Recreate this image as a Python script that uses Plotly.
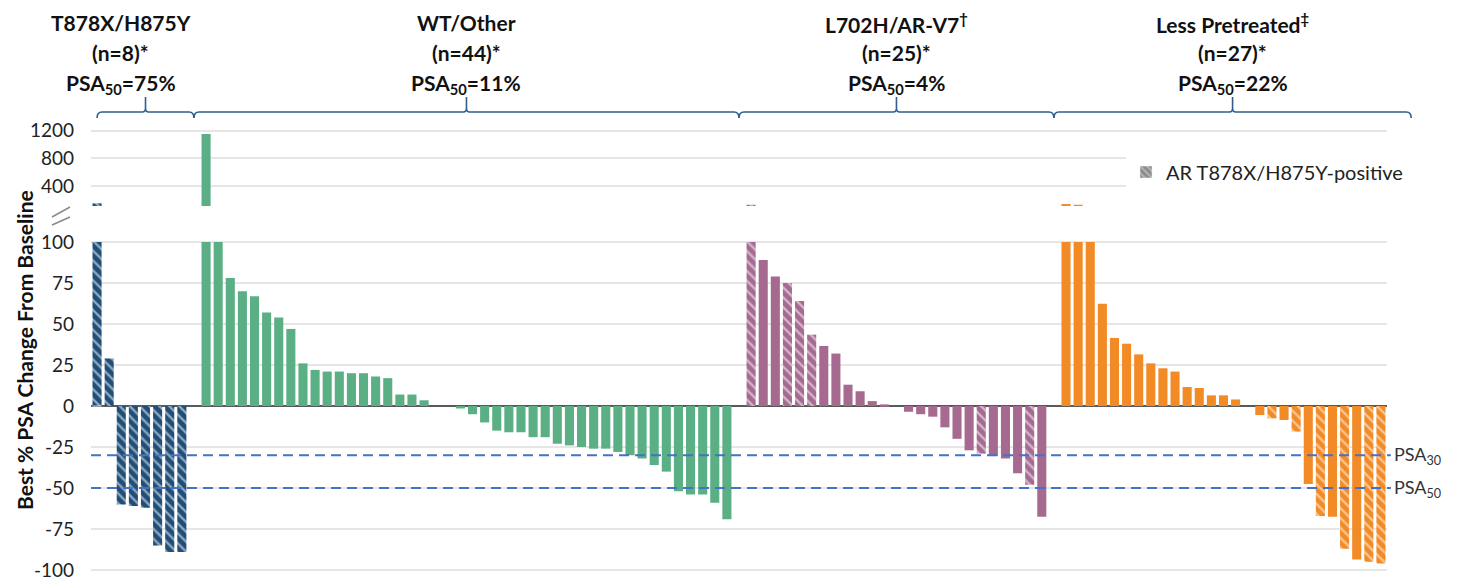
import plotly.graph_objects as go

# ---------------- data ----------------
group_names = ["T878X/H875Y", "WT/Other", "L702H/AR-V7<sup>†</sup>", "Less Pretreated<sup>‡</sup>"]
group_n = ["(n=8)*", "(n=44)*", "(n=25)*", "(n=27)*"]
group_psa50 = ["75%", "11%", "4%", "22%"]
group_colors = ["#1F4E79", "#5BAF84", "#A66A91", "#F28A26"]

t878_values = [150, 29, -60, -61, -62, -85, -89, -89]
t878_hatched = [1, 1, 1, 1, 1, 1, 1, 1]

wt_values = [1150, 100, 78, 70, 67, 57, 54, 47, 26, 22, 21, 21, 20, 20, 18, 17, 7, 7, 3.5,
             0, 0, -1.5, -5, -10, -15, -16, -16, -19, -19, -23, -24, -25, -26, -26, -28,
             -30, -32, -36, -40, -52, -54, -54, -59, -69]
wt_hatched = [0] * 44

l702h_values = [130, 89, 79, 75, 64, 43.5, 36.6, 32, 13, 9, 3, 1, 0,
                -3.5, -5, -6.5, -13, -20, -27, -29, -30.5, -32, -41, -48, -67.5]
l702h_hatched = [1, 0, 0, 1, 1, 1, 0, 0, 0, 0, 0, 0, 0,
                 0, 0, 0, 0, 0, 0, 1, 0, 0, 0, 1, 0]

lp_values = [140, 130, 100, 62.4, 41.5, 38, 31.5, 26, 23, 21, 11.6, 11, 6.5, 6.5, 4, 0,
             -5.5, -7.5, -8.5, -15.6, -47.5, -67, -67.5, -87, -93.5, -95, -96]
lp_hatched = [0] * 16 + [0, 1, 0, 1, 0, 1, 0, 1, 0, 1, 1]

group_values = [t878_values, wt_values, l702h_values, lp_values]
group_hatched = [t878_hatched, wt_hatched, l702h_hatched, lp_hatched]

lower_ticks = [-100, -75, -50, -25, 0, 25, 50, 75, 100]
upper_ticks = [400, 800, 1200]
psa_thresholds = [-30, -50]
psa_labels = ["PSA<sub>30</sub>", "PSA<sub>50</sub>"]
legend_label = "AR T878X/H875Y-positive"

# ---------------- layout geometry ----------------
W, H = 1457, 586
ML, MR, MT, MB = 91, 70, 119, 13
PW = W - ML - MR
PH = H - MT - MB
LOW_RANGE = [-101.8, 102]
UP_RANGE = [112, 1366]
LOW_DOMAIN = [0, 0.7363]
UP_DOMAIN = [0.8084, 1]
FONT = "Lato"

# slot positions: one empty slot between groups
slots = []
pos = 0
for vals in group_values:
    slots.append(list(range(pos, pos + len(vals))))
    pos += len(vals) + 1
n_slots = pos - 1
XR = [-0.5, n_slots - 0.5]


def px_x(slot):
    return ML + (slot - XR[0]) / (XR[1] - XR[0]) * PW


def paper_x(px):
    return (px - ML) / PW


def paper_y(py):
    return (H - MB - py) / PH


fig = go.Figure()

for gi, vals in enumerate(group_values):
    color = group_colors[gi]
    shapes = ["\\" if h else "" for h in group_hatched[gi]]
    pattern = dict(shape=shapes, fgcolor="white", bgcolor=color, size=7, solidity=0.33)
    lower = [min(v, 100) for v in vals]
    fig.add_trace(go.Bar(x=slots[gi], y=lower, marker=dict(color=color, pattern=pattern, line=dict(width=0)),
                         yaxis="y", showlegend=False, hoverinfo="y"))
    fig.add_trace(go.Bar(x=slots[gi], y=vals, marker=dict(color=color, pattern=pattern, line=dict(width=0)),
                         yaxis="y2", showlegend=False, hoverinfo="y"))

# legend-only trace
fig.add_trace(go.Bar(x=[0], y=[0], yaxis="y", name=legend_label,
                     marker=dict(color="#8c8c8c",
                                 pattern=dict(shape="\\", fgcolor="#d9d9d9", bgcolor="#8c8c8c", size=6, solidity=0.4)),
                     showlegend=True, hoverinfo="skip"))

shapes = []
annotations = []

# PSA threshold lines
for thr, lab in zip(psa_thresholds, psa_labels):
    shapes.append(dict(type="line", xref="paper", yref="y", x0=0, x1=1.003, y0=thr, y1=thr,
                       line=dict(color="#4472C4", width=2, dash="10px,6px"), layer="above"))
    annotations.append(dict(xref="paper", yref="y", x=1.004, y=thr, text=lab, showarrow=False,
                            xanchor="left", yanchor="middle",
                            font=dict(family=FONT, size=18, color="#333333")))

# braces and group headers
brace_color = "#2F5F8F"
y_line = 112
y_end = 118
y_tip = 97
bounds = []
for gi in range(len(group_values)):
    start = slots[gi][0] if gi == 0 else slots[gi][0] - 1
    end = slots[gi][-1] + 1 if gi < len(group_values) - 1 else slots[gi][-1] + 2.5
    bounds.append((px_x(start), px_x(end)))

text_offsets = [-25, 0, 0, 0]
for gi, (x0, x1) in enumerate(bounds):
    xm = (x0 + x1) / 2
    pts = [
        f"M{paper_x(x0):.5f},{paper_y(y_end):.5f}",
        f"Q{paper_x(x0):.5f},{paper_y(y_line):.5f} {paper_x(x0 + 5):.5f},{paper_y(y_line):.5f}",
        f"L{paper_x(xm - 3):.5f},{paper_y(y_line):.5f}",
        f"Q{paper_x(xm):.5f},{paper_y(y_line):.5f} {paper_x(xm):.5f},{paper_y(y_line - 4):.5f}",
        f"L{paper_x(xm):.5f},{paper_y(y_tip):.5f}",
        f"M{paper_x(xm):.5f},{paper_y(y_line - 4):.5f}",
        f"Q{paper_x(xm):.5f},{paper_y(y_line):.5f} {paper_x(xm + 3):.5f},{paper_y(y_line):.5f}",
        f"L{paper_x(x1 - 5):.5f},{paper_y(y_line):.5f}",
        f"Q{paper_x(x1):.5f},{paper_y(y_line):.5f} {paper_x(x1):.5f},{paper_y(y_end):.5f}",
    ]
    shapes.append(dict(type="path", xref="paper", yref="paper", path=" ".join(pts),
                       line=dict(color=brace_color, width=1.6)))
    xt = paper_x(xm + text_offsets[gi])
    for line_text, py in zip([group_names[gi], group_n[gi], "PSA<sub>50</sub>=" + group_psa50[gi]],
                             [23, 53, 84]):
        annotations.append(dict(xref="paper", yref="paper", x=xt, y=paper_y(py), text="<b>" + line_text + "</b>",
                                showarrow=False, xanchor="center", yanchor="middle",
                                font=dict(family=FONT, size=21, color="#111111")))

# axis break marks
for (ax0, ay0, ax1, ay1) in [(52, 217, 70, 207), (52, 225, 70, 217)]:
    shapes.append(dict(type="line", xref="paper", yref="paper",
                       x0=paper_x(ax0), y0=paper_y(ay0), x1=paper_x(ax1), y1=paper_y(ay1),
                       line=dict(color="#8a8a8a", width=1.5)))

# y-axis title
annotations.append(dict(xref="paper", yref="paper", x=paper_x(24), y=paper_y(350),
                        text="<b>Best % PSA Change From Baseline</b>", textangle=-90, showarrow=False,
                        xanchor="center", yanchor="middle",
                        font=dict(family=FONT, size=21, color="#111111")))

fig.update_layout(
    width=W, height=H,
    margin=dict(l=ML, r=MR, t=MT, b=MB, autoexpand=False),
    paper_bgcolor="white", plot_bgcolor="white",
    barmode="overlay", bargap=0.25,
    font=dict(family=FONT, color="#222222"),
    xaxis=dict(range=XR, showgrid=False, showticklabels=False, zeroline=False, showline=False, ticks="",
               automargin=False, title=None),
    yaxis=dict(domain=LOW_DOMAIN, range=LOW_RANGE, tickvals=lower_ticks, ticktext=[str(t) for t in lower_ticks],
               showgrid=True, gridcolor="#e6e6e6", gridwidth=2, automargin=False,
               zeroline=True, zerolinecolor="#5a5a5a", zerolinewidth=2,
               ticklabelstandoff=16, tickfont=dict(family=FONT, size=19, color="#222222")),
    yaxis2=dict(domain=UP_DOMAIN, range=UP_RANGE, tickvals=upper_ticks, ticktext=[str(t) for t in upper_ticks],
                showgrid=True, gridcolor="#e6e6e6", gridwidth=2, zeroline=False, automargin=False,
                ticklabelstandoff=16, tickfont=dict(family=FONT, size=19, color="#222222")),
    legend=dict(x=paper_x(1126), y=paper_y(172), xanchor="left", yanchor="middle",
                bgcolor="white", font=dict(family=FONT, size=20, color="#222222"),
                itemclick=False, itemdoubleclick=False),
    shapes=shapes,
    annotations=annotations,
    showlegend=True,
)

fig.write_html(
    "out.html",
    config={"displayModeBar": False},
    post_script=(
        "document.documentElement.style.margin='0';"
        "document.documentElement.style.overflow='hidden';"
        "document.body.style.margin='0';"
        "document.body.style.overflow='hidden';"
    ),
)
